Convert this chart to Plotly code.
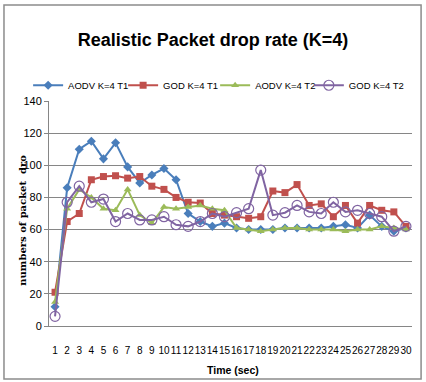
import plotly.graph_objects as go

time_labels = [str(i) for i in range(1, 31)]
aodv_t1 = [12, 86, 110, 115, 104, 114, 99, 89, 94, 98, 91, 70, 65, 62, 64, 61, 60, 60, 60, 61, 61, 61, 61, 62, 63, 61, 69, 62, 59, 61]
god_t1 = [21, 65, 70, 91, 93, 93.5, 92, 93, 87, 85, 80, 77, 76.5, 70, 69, 68, 67, 68, 84, 83, 88, 75, 76, 68, 75, 64, 75, 72, 71, 62]
aodv_t2 = [15, 73, 85, 80, 73, 72, 85, 69, 64, 74, 73, 74, 75, 73, 72, 61, 60, 59, 60, 61, 61, 60, 60, 60, 59, 60, 60, 62, 61, 60]
god_t2 = [6, 77, 87, 77, 79, 65, 70, 66, 66, 68, 63, 62, 65, 70, 68, 70.5, 73, 97, 69, 70.5, 75, 71, 70, 77, 71, 72, 70, 68, 59, 62]

series = [
    ("AODV K=4 T1", aodv_t1, "#4A7EBB", dict(symbol="diamond", size=7)),
    ("GOD K=4 T1", god_t1, "#C0504D", dict(symbol="square", size=7)),
    ("AODV K=4 T2", aodv_t2, "#9BBB59", dict(symbol="triangle-up", size=7)),
    ("GOD K=4 T2", god_t2, "#8064A2", dict(symbol="circle-open", size=10, line=dict(width=1.2))),
]

font_main = "Liberation Sans, Arial"
legend_names = ["legend", "legend2", "legend3", "legend4"]
legend_x = [0.066, 0.289, 0.505, 0.725]

fig = go.Figure()
for (name, vals, color, mk), lg in zip(series, legend_names):
    fig.add_trace(go.Scatter(
        x=list(range(1, 31)), y=vals, name=name, mode="lines+markers",
        line=dict(color=color, width=2), marker=dict(color=color, **mk), legend=lg,
    ))

legend_common = dict(orientation="h", xref="container", xanchor="left", y=1.07, yanchor="middle",
                     font=dict(family=font_main, size=9.5, color="black"),
                     itemwidth=30, bgcolor="rgba(0,0,0,0)")
layout_legends = {lg: dict(x=lx, **legend_common) for lg, lx in zip(legend_names, legend_x)}

fig.update_layout(
    width=426, height=382,
    paper_bgcolor="white", plot_bgcolor="white",
    margin=dict(l=49, r=14, t=101, b=56, autoexpand=False),
    title=dict(text="<b>Realistic Packet drop rate (K=4)</b>", x=0.5, xanchor="center",
               y=0.895, yanchor="middle",
               font=dict(family=font_main, size=18, color="black")),
    showlegend=True,
    font=dict(family=font_main, color="black"),
    **layout_legends,
)
fig.update_xaxes(
    range=[0.5, 30.5], tickmode="array", tickvals=list(range(1, 31)), ticktext=time_labels,
    tickangle=0, showgrid=False, showline=True, linecolor="#868686", linewidth=1,
    ticks="", ticklabelstandoff=15, tickfont=dict(family=font_main, size=10, color="black"),
    zeroline=False, automargin=False,
)
fig.update_yaxes(
    range=[0, 140], dtick=20, showgrid=True, gridcolor="#868686", gridwidth=1,
    showline=True, linecolor="#868686", linewidth=1, ticks="outside", ticklen=4, tickcolor="#868686",
    tickfont=dict(family=font_main, size=11, color="black"),
    zeroline=False, automargin=False,
)
fig.add_annotation(text="<b>numbers of packet  dro</b>", xref="paper", yref="paper",
                   x=-0.096, y=0.471, textangle=-90, showarrow=False,
                   font=dict(family="DejaVu Serif, serif", size=10, color="black"))
fig.add_annotation(text="<b>Time (sec)</b>", xref="paper", yref="paper",
                   x=0.507, y=-0.195, yanchor="middle", showarrow=False,
                   font=dict(family=font_main, size=10.5, color="black"))
fig.add_shape(type="rect", xref="paper", yref="paper", x0=-0.124, x1=1.025, y0=-0.236, y1=1.427,
              line=dict(color="#8c8c8c", width=1.5), fillcolor="rgba(0,0,0,0)", layer="below")
fig.write_html("out.html", config={"displayModeBar": False},
               post_script="document.body.style.margin='0px';")
